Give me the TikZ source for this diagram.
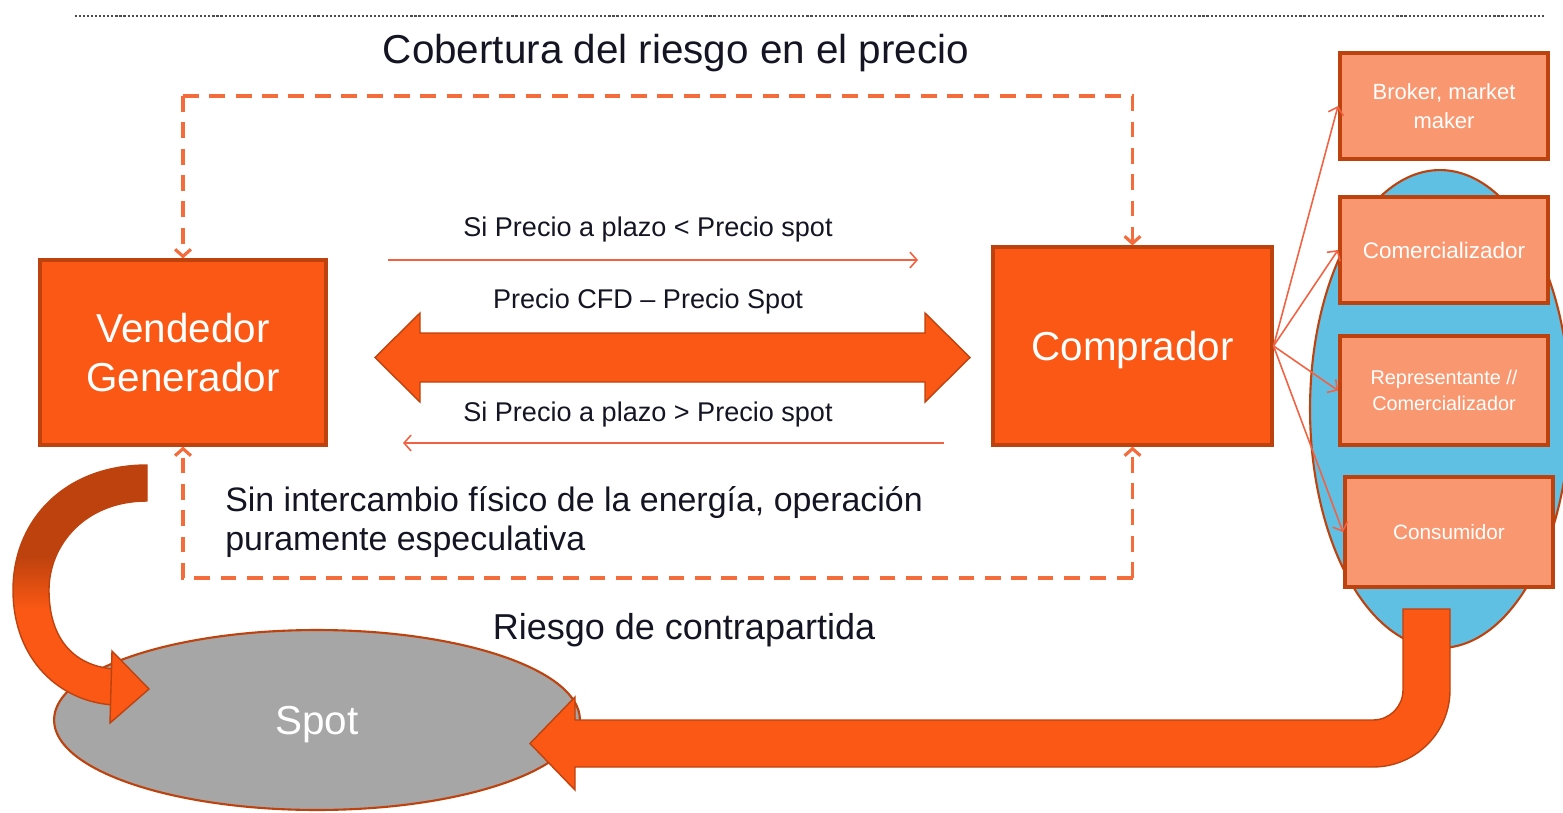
\documentclass[tikz,border=0pt]{standalone}
\usepackage{fontspec}
\setmainfont{Liberation Sans}
\usetikzlibrary{arrows.meta,shapes.geometric}
\definecolor{om}{RGB}{250,88,20}
\definecolor{od}{RGB}{190,66,14}
\definecolor{salm}{RGB}{249,152,112}
\definecolor{sky}{RGB}{96,192,228}
\definecolor{spotgray}{RGB}{166,166,166}
\definecolor{dashc}{RGB}{244,108,60}
\definecolor{thinc}{RGB}{242,98,66}
\definecolor{txt}{RGB}{20,20,35}
\pgfdeclareverticalshading{curvsh}{100bp}{color(0bp)=(om); color(45bp)=(om); color(56bp)=(od); color(100bp)=(od)}
\begin{document}
\begin{tikzpicture}[x=0.02cm,y=-0.02cm,
 bigbox/.style={draw=od, line width=1.8pt, fill=om, text=white, align=center, font=\fontsize{23}{28.3}\selectfont, inner sep=0pt},
 smallbox/.style={draw=od, line width=2.3pt, fill=salm, text=white, align=center, minimum width=4.16cm, inner sep=0pt},
 dashline/.style={dashc, line width=1.8pt, dash pattern=on 9pt off 6pt},
 barb/.style={-{Straight Barb[length=4pt,width=9pt]}},
 thinarrow/.style={thinc, line width=0.9pt},
 lbl/.style={text=txt, inner sep=0pt},
 fatarrow/.style={fill=om, draw=od, line width=0.8pt, line join=miter},
]
\useasboundingbox (0,0) rectangle (1563,812);

% dotted rule
\draw[gray!60!black, line width=1.2pt, dash pattern=on 1.2pt off 1.1pt] (75,16) -- (1545,16);

% title
\node[lbl, anchor=base, font=\fontsize{23}{28}\selectfont] (title) at (676,63) {Cobertura del riesgo en el precio};

% main boxes
\node[bigbox, minimum width=5.72cm, minimum height=3.7cm] (vend) at (183,352.5) {Vendedor\\Generador};
\node[bigbox, minimum width=5.58cm, minimum height=3.96cm, text depth=0pt] (comp) at (1132.5,346) {Comprador};

% dashed frame
\coordinate (dtl) at (vend.north |- 0,96);
\coordinate (dtr) at (comp.north |- 0,96);
\coordinate (dbl) at (vend.south |- 0,578);
\coordinate (dbr) at (comp.south |- 0,578);
\draw[dashline, barb] (dtl) -- (dtr) -- (comp.north);
\draw[dashline, barb] (dtl) -- (vend.north);
\draw[dashline, barb] (dbr) -- (dbl) -- (vend.south);
\draw[dashline, barb] (dbr) -- (comp.south);

% big double arrow
\draw[fatarrow] (375,357.5) -- (420,313) -- (420,333) -- (925,333) -- (925,313) -- (970,357.5)
  -- (925,402) -- (925,382) -- (420,382) -- (420,402) -- cycle;

% thin arrows
\coordinate (t1s) at (388,260);
\coordinate (t1e) at (918,260);
\coordinate (t2s) at (944,443);
\coordinate (t2e) at (403,443);
\draw[thinarrow, barb] (t1s) -- (t1e);
\draw[thinarrow, barb] (t2s) -- (t2e);

% labels
\node[lbl, anchor=base, font=\fontsize{15.4}{18}\selectfont] (l1) at (648,236) {Si Precio a plazo < Precio spot};
\node[lbl, anchor=base, font=\fontsize{15.4}{18}\selectfont] (l2) at (648,308) {Precio CFD – Precio Spot};
\node[lbl, anchor=base, font=\fontsize{15.4}{18}\selectfont] (l3) at (648,421) {Si Precio a plazo > Precio spot};
\node[lbl, anchor=west, align=left, font=\fontsize{19.3}{22}\selectfont] (note) at (225,522) {Sin intercambio físico de la energía, operación\\puramente especulativa};
\node[lbl, anchor=base, font=\fontsize{20.5}{24}\selectfont] (riesgo) at (684,639) {Riesgo de contrapartida};

% blue ellipse
\node[ellipse, draw=od, line width=1.2pt, fill=sky, minimum width=5.2cm, minimum height=9.56cm, inner sep=0pt] (cloud) at (1440,409) {};

% small boxes
\node[smallbox, minimum height=2.12cm, font=\fontsize{12.5}{16.4}\selectfont] (broker) at (1444,106) {Broker, market\\maker};
\node[smallbox, minimum height=2.12cm, font=\fontsize{12.8}{15}\selectfont] (comer) at (1444,250) {Comercializador};
\node[smallbox, minimum height=2.18cm, font=\fontsize{11.3}{14.7}\selectfont] (repr) at (1444,390.5) {Representante //\\Comercializador};
\node[smallbox, minimum height=2.2cm, font=\fontsize{11.8}{14}\selectfont] (cons) at (1449,532) {Consumidor};

\draw[thinarrow, barb] (comp.east) -- (broker.west);
\draw[thinarrow, barb] (comp.east) -- (comer.west);
\draw[thinarrow, barb] (comp.east) -- (repr.west);
\draw[thinarrow, barb] (comp.east) -- (cons.west);

% spot ellipse
\node[ellipse, draw=od, line width=1.2pt, fill=spotgray, minimum width=10.52cm, minimum height=3.6cm, inner sep=0pt, text depth=0pt, text=white, font=\fontsize{23}{28}\selectfont] (spot) at (317,720) {Spot};

% curved arrow from generator to spot
\draw[draw=od, line width=0.8pt, shading=curvsh] (147,465) .. controls (65,465) and (13,520) .. (13,590)
  .. controls (13,660) and (60,702) .. (114,705) -- (114,669)
  .. controls (75,666) and (49,640) .. (49,590) .. controls (49,545) and (85,501) .. (147,501) -- cycle;
\draw[fatarrow] (112,651) -- (149,689) -- (110,723) -- cycle;

% U arrow from consumers to spot
\draw[fatarrow] (1403,609) -- (1450,609) -- (1450,690) .. controls (1450,732.5) and (1415.5,767) .. (1373,767)
  -- (575,767) -- (575,790) -- (530,743.5) -- (575,697) -- (575,720) -- (1373,720)
  .. controls (1389.6,720) and (1403,706.6) .. (1403,690) -- cycle;

\end{tikzpicture}
\end{document}
